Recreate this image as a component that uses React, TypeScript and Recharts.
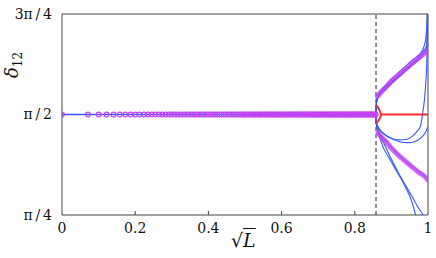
import React from "react";
import { LineChart, Line, XAxis, YAxis, ReferenceLine } from "recharts";

// y values are in units of π
const xTicks = [0, 0.2, 0.4, 0.6, 0.8, 1];
const yTicks = [0.25, 0.5, 0.75];
const yTickLabels = ["π\u2009/\u20094", "π\u2009/\u20092", "3π\u2009/\u20094"];
const criticalX = 0.858;

// sampled points along sqrt(L) before the bifurcation (all at π/2)
const markerX = [
  0, 0.071, 0.1, 0.122, 0.141, 0.158, 0.173, 0.187, 0.2, 0.212, 0.224, 0.235,
  0.245, 0.255, 0.265, 0.274, 0.283, 0.292, 0.3, 0.308, 0.316, 0.324, 0.332,
  0.339, 0.346, 0.354, 0.361, 0.367, 0.374, 0.381, 0.387, 0.394, 0.4, 0.406,
  0.412, 0.418, 0.424, 0.43, 0.436, 0.442, 0.447, 0.453, 0.458, 0.464, 0.469,
  0.474, 0.48, 0.485, 0.49, 0.495, 0.5, 0.505, 0.51, 0.515, 0.52, 0.524, 0.529,
  0.534, 0.539, 0.543, 0.548, 0.552, 0.557, 0.561, 0.566, 0.57, 0.574, 0.579,
  0.583, 0.587, 0.592, 0.596, 0.6, 0.604, 0.608, 0.612, 0.616, 0.62, 0.624,
  0.628, 0.632, 0.636, 0.64, 0.644, 0.648, 0.652, 0.656, 0.66, 0.663, 0.667,
  0.671, 0.675, 0.678, 0.682, 0.686, 0.689, 0.693, 0.696, 0.7, 0.704, 0.707,
  0.711, 0.714, 0.718, 0.721, 0.725, 0.728, 0.731, 0.735, 0.738, 0.742, 0.745,
  0.748, 0.752, 0.755, 0.758, 0.762, 0.765, 0.768, 0.771, 0.775, 0.778, 0.781,
  0.784, 0.787, 0.791, 0.794, 0.797, 0.8, 0.803, 0.806, 0.809, 0.812, 0.816,
  0.819, 0.822, 0.825, 0.828, 0.831, 0.834, 0.837, 0.84, 0.843, 0.846, 0.849,
  0.852, 0.854, 0.857,
];

const baseBlue = [[0, 0.5], [0.858, 0.5]];

const purpleUpper = [
  [0.862, 0.545], [0.872, 0.556], [0.883, 0.566], [0.9, 0.583], [0.919, 0.598],
  [0.938, 0.613], [0.957, 0.628], [0.975, 0.641], [0.992, 0.653], [1.0, 0.66],
];
const purpleLower = [
  [0.864, 0.454], [0.872, 0.445], [0.883, 0.434], [0.9, 0.416], [0.919, 0.399],
  [0.938, 0.384], [0.957, 0.369], [0.975, 0.356], [0.992, 0.345], [1.0, 0.337],
];

const blueUp1 = [
  [0.858, 0.5], [0.8585, 0.52], [0.86, 0.535], [0.865, 0.551], [0.883, 0.571],
  [0.919, 0.604], [0.957, 0.635], [0.985, 0.66], [0.994, 0.69], [0.998, 0.75], [0.999, 0.78],
];
const blueUp2 = [
  [0.858, 0.5], [0.8585, 0.52], [0.86, 0.534], [0.865, 0.548], [0.883, 0.565],
  [0.919, 0.597], [0.957, 0.627], [0.99, 0.652], [1.0, 0.66],
];
const blueUp3 = [
  [0.858, 0.5], [0.8585, 0.522], [0.86, 0.536], [0.866, 0.552], [0.883, 0.568],
  [0.919, 0.594], [0.957, 0.622], [0.985, 0.648], [0.996, 0.67], [0.998, 0.72], [0.999, 0.78],
];
const blueUp4 = [
  [0.858, 0.5], [0.8585, 0.52], [0.86, 0.533], [0.866, 0.546], [0.883, 0.562],
  [0.919, 0.592], [0.957, 0.625], [0.985, 0.655], [1.0, 0.672],
];
const blueLoop = [
  [0.858, 0.5], [0.8585, 0.48], [0.861, 0.474], [0.872, 0.458], [0.883, 0.449],
  [0.9, 0.441], [0.919, 0.437], [0.94, 0.438], [0.956, 0.445], [0.97, 0.458],
  [0.979, 0.47], [0.985, 0.5], [0.99, 0.535], [0.994, 0.58], [0.997, 0.64],
  [0.998, 0.7], [0.999, 0.78],
];
const blueDip = [
  [0.858, 0.5], [0.8585, 0.48], [0.862, 0.47], [0.88, 0.452], [0.9, 0.44],
  [0.92, 0.433], [0.945, 0.43], [0.965, 0.433], [0.982, 0.443], [0.993, 0.455], [1.0, 0.47],
];
const blueLow = [
  [0.858, 0.5], [0.8585, 0.48], [0.862, 0.465], [0.872, 0.447], [0.883, 0.436],
  [0.919, 0.4], [0.957, 0.37], [0.992, 0.346], [1.0, 0.34],
];
const blueDown1 = [
  [0.858, 0.5], [0.8585, 0.48], [0.861, 0.468], [0.87, 0.437], [0.902, 0.379],
  [0.938, 0.32], [0.955, 0.285], [0.966, 0.25], [0.972, 0.22],
];
const blueDown2 = [
  [0.858, 0.5], [0.8585, 0.48], [0.861, 0.466], [0.875, 0.437], [0.919, 0.355],
  [0.957, 0.295], [0.975, 0.266], [0.988, 0.245], [0.994, 0.22],
];

const redKink = [
  [0.859, 0.524], [0.865, 0.515], [0.87, 0.506], [0.872, 0.5], [0.87, 0.494],
  [0.865, 0.485], [0.859, 0.478],
];
const redFlat = [[0.872, 0.5], [1.0, 0.5]];

const toPts = (a: number[][]) => a.map(([x, y]) => ({ x, y }));

const BLUE = "#3557ff";
const PURPLE = "#c442f2";
const RED = "#ff2a2a";
const AXIS = "#444";
const FONT = '"DejaVu Serif", "Liberation Serif", serif';

const blueCurves = [blueUp1, blueUp2, blueUp3, blueUp4, blueLoop, blueDip, blueLow, blueDown1, blueDown2];

export default function App() {
  return (
    <div style={{ position: "absolute", left: 0, top: 0, width: 436, height: 258, background: "#fff", fontFamily: FONT }}>
      <style>{`.recharts-text, .recharts-cartesian-axis-tick-value, .lbl { font-family: ${FONT} !important; }`}</style>
      <LineChart width={436} height={258} margin={{ top: 14, right: 8, bottom: 0, left: 0 }}>
        <XAxis
          type="number"
          dataKey="x"
          domain={[0, 1]}
          ticks={xTicks}
          interval={0}
          allowDataOverflow
          tickSize={0}
          tickMargin={8}
          height={43}
          stroke={AXIS}
          tick={{ fill: "#111", fontSize: 14 }}
          tickFormatter={(v: number) => String(v)}
        />
        <YAxis
          type="number"
          dataKey="y"
          domain={[0.25, 0.75]}
          ticks={yTicks}
          interval={0}
          allowDataOverflow
          tickSize={0}
          tickMargin={10}
          width={62}
          stroke={AXIS}
          tick={{ fill: "#111", fontSize: 14 }}
          tickFormatter={(v: number) => yTickLabels[yTicks.indexOf(v)] ?? ""}
        />
        <ReferenceLine y={0.75} stroke={AXIS} />
        <ReferenceLine x={1} stroke={AXIS} />
        {xTicks.slice(1, -1).map((t) => (
          <ReferenceLine key={t} segment={[{ x: t, y: 0.25 }, { x: t, y: 0.26 }]} stroke={AXIS} />
        ))}
        <ReferenceLine x={criticalX} stroke="#222" strokeDasharray="4 3" />

        <Line data={toPts(baseBlue)} dataKey="y" stroke={BLUE} strokeWidth={1.6} dot={false} isAnimationActive={false} />
        {blueCurves.map((c, i) => (
          <Line key={i} data={toPts(c)} dataKey="y" type="monotone" stroke={BLUE} strokeWidth={1.1} dot={false} isAnimationActive={false} />
        ))}
        <Line data={toPts(purpleUpper)} dataKey="y" type="monotone" stroke={PURPLE} strokeOpacity={0.8} strokeWidth={5} strokeLinecap="round" dot={false} isAnimationActive={false} />
        <Line data={toPts(purpleLower)} dataKey="y" type="monotone" stroke={PURPLE} strokeOpacity={0.8} strokeWidth={5} strokeLinecap="round" dot={false} isAnimationActive={false} />
        <Line
          data={markerX.map((x) => ({ x, y: 0.5 }))}
          dataKey="y"
          stroke="none"
          dot={{ r: 2.4, stroke: PURPLE, strokeWidth: 1.1, fill: "none" }}
          isAnimationActive={false}
        />
        <Line data={toPts(redKink)} dataKey="y" stroke={RED} strokeWidth={2} dot={false} isAnimationActive={false} />
        <Line data={toPts(redFlat)} dataKey="y" stroke={RED} strokeWidth={2} dot={false} isAnimationActive={false} />
      </LineChart>
      <div className="lbl" style={{ position: "absolute", left: 231, top: 229, fontSize: 19, lineHeight: "22px", color: "#111" }}>
        √<span style={{ fontStyle: "italic", textDecoration: "overline" }}>L</span>
      </div>
      <div
        className="lbl"
        style={{
          position: "absolute",
          left: 15,
          top: 65,
          transform: "translate(-50%, -50%) rotate(-90deg)",
          fontSize: 18,
          lineHeight: "20px",
          color: "#111",
          whiteSpace: "nowrap",
        }}
      >
        <span style={{ fontStyle: "italic" }}>δ</span>
        <sub style={{ fontSize: 12 }}>12</sub>
      </div>
    </div>
  );
}
